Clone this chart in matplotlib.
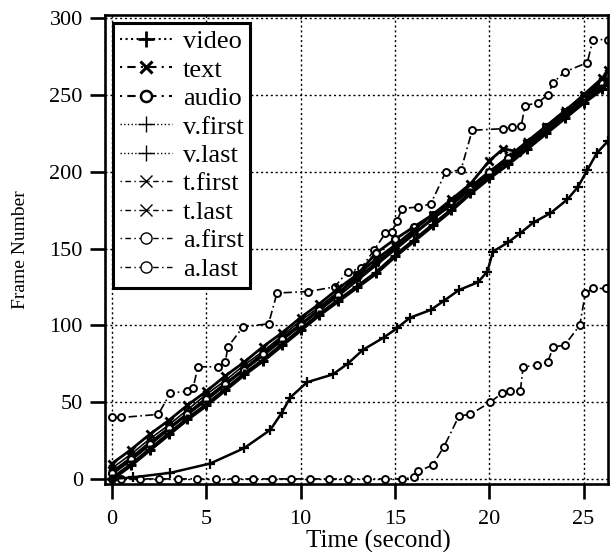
import matplotlib
matplotlib.use("Agg")
import matplotlib.pyplot as plt
from matplotlib.lines import Line2D

plt.rcParams['font.family'] = ['Liberation Serif', 'DejaVu Serif']

# time grid shared by the diagonal series (seconds)
t_band = [0, 1, 2, 3, 4, 5, 6, 7, 8, 9, 10, 11, 12, 13, 14, 15, 16, 17, 18, 19,
          20, 21, 22, 23, 24, 25, 26, 26.3]

video = [0, 9, 19, 29, 39, 48, 58, 68, 77, 87, 97, 107, 116, 125, 134, 145, 155,
         165, 175, 186, 196, 205, 215, 225, 235, 245, 254, 258]
audio = [4, 13, 23, 33, 42, 52, 62, 71, 81, 91, 100, 110, 120, 133, 147, 156, 164,
         172, 181, 190, 200, 209, 219, 229, 239, 249, 258, 263]
v_first = [3, 12, 22, 32, 42, 51, 61, 71, 80, 90, 100, 110, 119, 129, 139, 149, 159,
           169, 179, 189, 199, 208, 218, 228, 238, 248, 257, 261]
t_first = [7, 16, 26, 35, 45, 55, 64, 74, 83, 93, 103, 112, 122, 131, 141, 151, 160,
           170, 180, 190, 200, 210, 220, 230, 240, 250, 259, 264]
t_last = [5, 14, 24, 33, 43, 53, 62, 72, 82, 92, 101, 111, 121, 130, 140, 150, 160,
          169, 178, 188, 198, 207, 217, 227, 237, 247, 256, 262]

text_t = [0, 1, 2, 3, 4, 5, 6, 7, 8, 9, 10, 11, 12, 13, 14, 15, 16, 17, 18, 19, 20,
          20.75, 21.5, 22, 23, 24, 25, 26, 26.3]
text = [10, 19, 29, 38, 48, 57, 67, 76, 86, 95, 105, 114, 124, 133, 143, 152, 162,
        172, 182, 192, 207, 215, 213, 219, 229, 239, 250, 261, 266]

# slow lower curve
v_last_t = [0, 1.1, 3.1, 5.2, 7.0, 8.4, 9.0, 9.45, 10.35, 11.7, 12.5, 13.3, 14.4, 15.1,
            15.8, 16.9, 17.6, 18.4, 19.4, 19.9, 20.2, 21.0, 21.65, 22.35, 23.25, 24.15,
            24.7, 25.2, 25.7, 26.3]
v_last = [0, 1, 4, 10, 20, 32, 43, 53, 63, 68, 75, 84, 92, 98, 105, 110, 116, 123, 128,
          135, 148, 154, 160, 167, 173, 182, 190, 201, 212, 220]

# step curves
a_first_t = [0, 0.5, 2.45, 3.1, 4.0, 4.3, 4.55, 5.6, 6.0, 6.15, 6.95, 8.3, 8.75, 10.4,
             11.8, 12.5, 13.2, 13.9, 14.5, 14.85, 15.1, 15.4, 16.2, 16.9, 17.7, 18.5,
             19.1, 20.75, 21.2, 21.7, 21.9, 22.6, 23.1, 23.4, 24.0, 25.2, 25.5, 26.3]
a_first = [40, 40, 42, 56, 57, 59, 73, 73, 76, 86, 99, 101, 121, 122, 125, 135, 137,
           149, 160, 161, 168, 176, 177, 179, 200, 201, 227, 228, 229, 230, 243, 245,
           250, 258, 265, 271, 286, 286]

a_last_t = [0, 0.5, 1.5, 2.5, 3.5, 4.5, 5.5, 6.5, 7.5, 8.5, 9.5, 10.5, 11.5, 12.5, 13.5,
            14.5, 15.4, 16.0, 16.25, 17.0, 17.6, 18.4, 19.0, 20.06, 20.7, 21.1, 21.65,
            21.8, 22.55, 23.1, 23.4, 24.0, 24.8, 25.1, 25.5, 26.2]
a_last = [0, 0, 0, 0, 0, 0, 0, 0, 0, 0, 0, 0, 0, 0, 0, 0, 0, 1, 5, 9, 21, 41, 42, 50,
          56, 57, 57, 73, 74, 76, 86, 87, 100, 121, 124, 124]

x_ticks = [0, 5, 10, 15, 20, 25]
y_ticks = [0, 50, 100, 150, 200, 250, 300]
names = ['video', 'text', 'audio', 'v.first', 'v.last', 't.first', 't.last',
         'a.first', 'a.last']

fig = plt.figure(figsize=(6.12, 5.52), dpi=100)
ax = fig.add_axes([0.1716, 0.1232, 0.8219, 0.8496])

hollow = dict(markerfacecolor='white', markeredgecolor='black')
dashdot = (0, (5, 2, 1, 2))
dotdash = (0, (1, 2.5, 4, 2.5))

# step curves (dashed, circles)
ax.plot(a_first_t, a_first, color='black', lw=1.2, ls=dashdot,
        marker='o', ms=5, mew=1.4, **hollow)
ax.plot(a_last_t, a_last, color='black', lw=1.2, ls=dashdot,
        marker='o', ms=5, mew=1.4, **hollow)

# slow video curve
ax.plot(v_last_t, v_last, color='black', lw=1.8, marker='+', ms=7, mew=1.6)

# the heavy diagonal band
ax.plot(t_band, v_first, color='black', lw=1.5, marker='+', ms=6, mew=1.5)
ax.plot(t_band, t_first, color='black', lw=1.2, marker='x', ms=5, mew=1.4)
ax.plot(t_band, t_last, color='black', lw=1.2, marker='x', ms=5, mew=1.4)
ax.plot(t_band, audio, color='black', lw=2, marker='o', ms=5, mew=1.6, **hollow)
ax.plot(text_t, text, color='black', lw=2, marker='x', ms=6, mew=2)
ax.plot(t_band, video, color='black', lw=3, marker='+', ms=7, mew=2.2)

ax.set_xlim(-0.37, 26.3)
ax.set_ylim(-3.3, 302)
ax.set_xticks(x_ticks)
ax.set_yticks(y_ticks)
ax.grid(True, color='black', ls=(0, (1.5, 2)), lw=1)
ax.set_axisbelow(True)

for s in ax.spines.values():
    s.set_linewidth(1.9)
ax.tick_params(direction='out', length=11, width=1.9, labelsize=16, pad=5)
ax.tick_params(axis='x', pad=8)

ax.set_xlabel('Time (second)', fontsize=18)
ax.set_ylabel('Frame Number', fontsize=14)
ax.xaxis.set_label_coords(0.543, -0.098)
ax.yaxis.set_label_coords(-0.152, 0.5)

# legend keys in the dotted / dash-dot styles of the original
handles = [
    Line2D([], [], color='black', lw=1.5, ls=':', marker='+', ms=12, mew=2),
    Line2D([], [], color='black', lw=1.5, ls=dotdash, marker='x', ms=9, mew=2.2),
    Line2D([], [], color='black', lw=1.5, ls=dotdash, marker='o', ms=8, mew=1.8, **hollow),
    Line2D([], [], color='black', lw=1, ls=':', marker='+', ms=11, mew=1),
    Line2D([], [], color='black', lw=1, ls=':', marker='+', ms=11, mew=1),
    Line2D([], [], color='black', lw=1, ls=dotdash, marker='x', ms=9, mew=1),
    Line2D([], [], color='black', lw=1, ls=dotdash, marker='x', ms=9, mew=1),
    Line2D([], [], color='black', lw=1, ls=dotdash, marker='o', ms=8, mew=1, **hollow),
    Line2D([], [], color='black', lw=1, ls=dotdash, marker='o', ms=8, mew=1, **hollow),
]
leg = ax.legend(handles, names, loc='upper left',
                bbox_to_anchor=(0.016, 0.983), fontsize=19, frameon=True,
                fancybox=False, framealpha=1, edgecolor='black', borderpad=0.25,
                labelspacing=0.19, handlelength=2.0, handletextpad=0.4,
                borderaxespad=0)
leg.get_frame().set_linewidth(2.2)

plt.savefig('out.png', dpi=100)
